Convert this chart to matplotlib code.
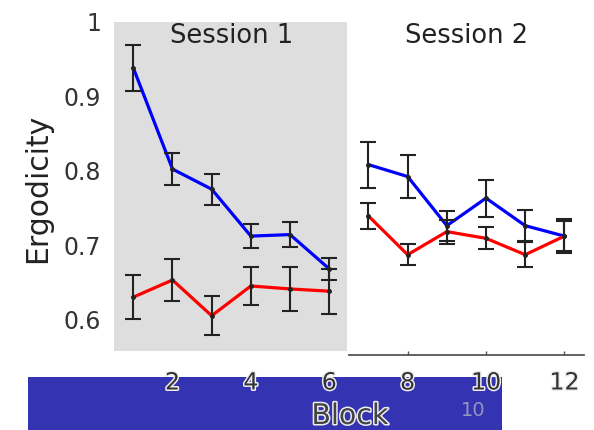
import matplotlib
matplotlib.use("Agg")
import matplotlib.pyplot as plt
import matplotlib.patheffects as pe
from matplotlib.patches import Rectangle

blocks = [1, 2, 3, 4, 5, 6, 7, 8, 9, 10, 11, 12]
blue_vals = [0.938, 0.802, 0.775, 0.712, 0.714, 0.668, 0.808, 0.792, 0.726, 0.763, 0.726, 0.712]
blue_err = [0.031, 0.021, 0.021, 0.016, 0.017, 0.015, 0.031, 0.029, 0.020, 0.025, 0.021, 0.020]
red_vals = [0.630, 0.653, 0.605, 0.645, 0.641, 0.638, 0.739, 0.687, 0.718, 0.709, 0.687, 0.712]
red_err = [0.030, 0.028, 0.026, 0.026, 0.029, 0.030, 0.017, 0.014, 0.016, 0.015, 0.017, 0.023]
xticks = [2, 4, 6, 8, 10, 12]
yticks = [0.6, 0.7, 0.8, 0.9, 1.0]
ytick_labels = ["0.6", "0.7", "0.8", "0.9", "1"]
session_labels = ["Session 1", "Session 2"]

W, H = 594, 430
fig = plt.figure(figsize=(W / 100, H / 100), dpi=100)
fig.patch.set_facecolor("white")

# blue banner at bottom
fig.patches.append(Rectangle((27.7 / W, 0), (502.3 - 27.7) / W, (430 - 377.3) / H,
                             transform=fig.transFigure, facecolor="#3434B2",
                             edgecolor="none", zorder=0))

ax = fig.add_axes([113.7 / W, 1 - 355.2 / H, (584 - 113.7) / W, (355.2 - 21.7) / H])
ax.set_zorder(2)
ax.set_facecolor("none")
ax.set_xlim(0.5, 12.5)
ax.set_ylim(0.552, 1.0)

ax.axvspan(0.5, 6.45, ymin=(0.557 - 0.552) / (1.0 - 0.552), ymax=1.0,
           facecolor="#DEDEDE", edgecolor="none", zorder=0)

ax.plot(blocks[:6], blue_vals[:6], color="#0000FF", lw=2.3, zorder=2)
ax.plot(blocks[6:], blue_vals[6:], color="#0000FF", lw=2.3, zorder=2)
ax.plot(blocks[:6], red_vals[:6], color="#FF0000", lw=2.3, zorder=2)
ax.plot(blocks[6:], red_vals[6:], color="#FF0000", lw=2.3, zorder=2)

for vals, errs in [(blue_vals, blue_err), (red_vals, red_err)]:
    ax.errorbar(blocks, vals, yerr=errs, fmt="o", color="#222222", ms=2.5,
                elinewidth=1.5, capsize=5.5, capthick=1.5, zorder=3)

ax.text(3.5, 0.981, session_labels[0], ha="center", va="center", fontsize=18.5, color="#222222")
ax.text(9.51, 0.981, session_labels[1], ha="center", va="center", fontsize=18.5, color="#222222")

for s in ["top", "right", "left"]:
    ax.spines[s].set_visible(False)
ax.spines["bottom"].set_bounds(6.5, 12.5)
ax.spines["bottom"].set_color("#555555")
ax.spines["bottom"].set_linewidth(1.3)

ax.set_xticks(xticks)
ax.set_xticklabels([str(t) for t in xticks])
ax.set_yticks(yticks)
ax.set_yticklabels(ytick_labels)
ax.tick_params(axis="x", direction="in", length=3, width=1, color="#555555",
               labelsize=17, labelcolor="#333333", pad=11)
ax.tick_params(axis="y", length=0, labelsize=17, labelcolor="#333333", pad=9)
for i, t in enumerate(ax.xaxis.get_major_ticks()):
    if i < 3:
        t.tick1line.set_visible(False)
for lab in ax.get_xticklabels():
    lab.set_path_effects([pe.withStroke(linewidth=2.2, foreground="#EEEEEE")])

fig.text(350 / W, 1 - 416 / H, "Block", ha="center", va="center", fontsize=20.5,
         color="#444444", path_effects=[pe.withStroke(linewidth=2.2, foreground="#EEEEEE")],
         zorder=5)
fig.text(473 / W, 1 - 410 / H, "10", ha="center", va="center", fontsize=14,
         color="#9494BC", zorder=5)
fig.text(38 / W, 1 - 188 / H, "Ergodicity", ha="center", va="center", rotation=90,
         fontsize=21.5, color="#222222")

fig.savefig("out.png", dpi=100, facecolor="white")
